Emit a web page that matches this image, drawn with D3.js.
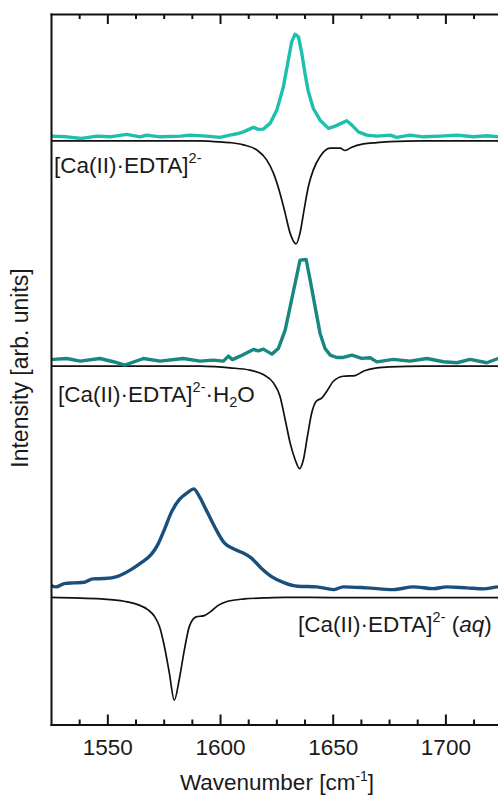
<!DOCTYPE html>
<html>
<head>
<meta charset="utf-8">
<script src="https://cdn.jsdelivr.net/npm/d3@7"></script>
<style>
  html, body { margin: 0; padding: 0; background: #fff; }
  svg { display: block; font-family: 'Liberation Sans', Arial, sans-serif; }
</style>
</head>
<body>
<div id="graph_container"></div>
<script>
// x axis
const X_DOMAIN = [1525, 1730];
const X_MAJOR = [1550, 1600, 1650, 1700];
const X_MINOR = [1537.5, 1562.5, 1575, 1587.5, 1612.5, 1625, 1637.5, 1662.5, 1675, 1687.5, 1712.5, 1725];

// [Ca(II)·EDTA]2- , measured (teal) and computed (black)
const gasWn = [1525.3, 1532.0, 1538.6, 1545.3, 1551.2, 1558.6, 1564.5, 1567.5, 1573.4, 1582.3, 1586.7, 1594.1, 1600.0,
  1604.4, 1607.5, 1610.4, 1614.8, 1617.0, 1619.2, 1622.2, 1625.2, 1628.1, 1630.3, 1631.8, 1633.3, 1634.8, 1636.3,
  1637.7, 1639.2, 1641.4, 1644.4, 1648.1, 1651.1, 1656.2, 1658.5, 1661.4, 1665.1, 1669.6, 1675.5, 1678.4, 1684.3,
  1690.2, 1697.7, 1705.1, 1712.4, 1718.4, 1723.4, 1730];
const gasInt = [0.007, 0.000, -0.016, 0.007, 0.000, 0.024, 0.000, 0.017, 0.000, 0.007, 0.017, 0.007, -0.006,
  0.017, 0.030, 0.049, 0.093, 0.073, 0.076, 0.132, 0.263, 0.492, 0.755, 0.935, 1.011, 0.985, 0.821,
  0.624, 0.443, 0.279, 0.164, 0.083, 0.105, 0.158, 0.115, 0.049, 0.017, 0.007, 0.017, -0.006, 0.017,
  0.000, 0.007, 0.017, 0.000, 0.010, 0.000, 0.005];
const gasCalcWn = [1525, 1591.1, 1597.8, 1604.4, 1610.4, 1616.3, 1620.7, 1623.7, 1626.6, 1628.9, 1631.1, 1633.7,
  1635.5, 1637.3, 1639.2, 1641.4, 1644.4, 1648.9, 1653.3, 1655.5, 1658.5, 1663.6, 1669.6, 1675.5, 1690, 1730];
const gasCalcInt = [0, 0, -0.007, -0.017, -0.039, -0.089, -0.187, -0.318, -0.515, -0.712, -0.909, -1.014,
  -0.909, -0.679, -0.450, -0.286, -0.154, -0.072, -0.072, -0.095, -0.062, -0.030, -0.017, -0.007, 0, 0];

// [Ca(II)·EDTA]2-·H2O
const hydWn = [1526.0, 1532.0, 1537.9, 1546.7, 1552.7, 1557.8, 1566.0, 1573.4, 1583.7, 1591.1, 1597.0, 1601.5,
  1603.7, 1605.5, 1608.9, 1614.8, 1617.0, 1619.2, 1623.0, 1625.9, 1628.9, 1631.1, 1633.3, 1635.5, 1638.2, 1640.0,
  1642.2, 1644.4, 1646.6, 1648.9, 1651.8, 1654.7, 1658.5, 1662.9, 1666.6, 1669.6, 1676.9, 1684.3, 1691.8, 1699.1,
  1705.1, 1711.0, 1718.4, 1723.4, 1730];
const hydInt = [0.007, 0.016, -0.010, 0.016, -0.016, -0.049, 0.016, -0.010, 0.016, -0.010, 0.000, -0.010,
  0.039, 0.005, 0.039, 0.105, 0.091, 0.108, 0.059, 0.115, 0.295, 0.525, 0.755, 0.985, 0.991, 0.788,
  0.525, 0.263, 0.115, 0.049, 0.026, 0.026, 0.049, 0.017, 0.023, -0.017, 0.007, -0.010, 0.016, -0.016,
  -0.026, 0.007, -0.026, 0.016, 0.000];
const hydCalcWn = [1525, 1591.1, 1597.8, 1604.4, 1613.3, 1619.2, 1623.7, 1626.6, 1628.9, 1631.1, 1633.3, 1635.3,
  1637.0, 1638.8, 1640.7, 1642.7, 1645.2, 1647.4, 1650.3, 1654.7, 1659.9, 1663.6, 1669.6, 1675.5, 1690, 1730];
const hydCalcInt = [0, 0, -0.005, -0.016, -0.039, -0.082, -0.164, -0.295, -0.525, -0.755, -0.919, -1.010,
  -0.919, -0.689, -0.459, -0.345, -0.312, -0.246, -0.148, -0.099, -0.092, -0.049, -0.016, -0.006, 0, 0];

// [Ca(II)·EDTA]2- (aq)
const aqWn = [1525.0, 1527.2, 1530.9, 1535.3, 1539.8, 1543.5, 1548.7, 1554.6, 1560.5, 1564.9, 1569.4, 1572.4,
  1575.3, 1578.3, 1581.9, 1585.7, 1588.3, 1590.8, 1593.8, 1597.5, 1601.9, 1605.7, 1610.1, 1613.8, 1618.2, 1622.7,
  1628.6, 1634.5, 1642.9, 1650.3, 1654.7, 1665.1, 1676.9, 1685.8, 1694.7, 1700.6, 1709.5, 1716.9, 1723.4, 1730];
const aqInt = [0.015, 0.002, 0.034, 0.041, 0.047, 0.081, 0.084, 0.106, 0.172, 0.238, 0.320, 0.418,
  0.566, 0.731, 0.861, 0.933, 0.967, 0.894, 0.763, 0.599, 0.435, 0.379, 0.337, 0.287, 0.189, 0.106,
  0.041, 0.008, 0.002, -0.025, 0.002, -0.008, -0.025, 0.002, -0.015, 0.002, -0.008, -0.018, 0.002, 0.005];
const aqCalcWn = [1525.0, 1547.2, 1557.5, 1563.5, 1567.9, 1570.9, 1573.1, 1575.3, 1577.5, 1579.7, 1581.9, 1584.2,
  1586.4, 1589.4, 1593.0, 1596.0, 1599.0, 1603.4, 1610.8, 1619.7, 1628.6, 1650, 1730];
const aqCalcInt = [0.003, -0.013, -0.036, -0.069, -0.118, -0.184, -0.283, -0.479, -0.741, -1.011, -0.807, -0.512,
  -0.283, -0.190, -0.177, -0.135, -0.079, -0.036, -0.013, -0.003, 0.003, 0, 0];

// vertical offsets of each trace
const OFFSETS = { gas: 5.79, gasCalc: 5.75, hyd: 3.59, hydCalc: 3.53, aq: 1.354, aqCalc: 1.25 };
const Y_DOMAIN = [0, 7];

const COLORS = { gas: '#1fbfad', hyd: '#17877f', aq: '#1a4f7c', calc: '#111111' };
const TEXT = '#1a1a1a';

const width = 498;
const height = 795;
const plot = { left: 51, top: 14, right: 513, bottom: 724.5 };

const svg = d3.select('#graph_container').append('svg')
  .attr('width', width).attr('height', height);

const x = d3.scaleLinear().domain(X_DOMAIN).range([plot.left, plot.right]);
const y = d3.scaleLinear().domain(Y_DOMAIN).range([plot.bottom, plot.top]);

svg.append('clipPath').attr('id', 'clip')
  .append('rect')
  .attr('x', plot.left).attr('y', plot.top)
  .attr('width', plot.right - plot.left).attr('height', plot.bottom - plot.top);

const traces = [
  { wn: gasCalcWn, int: gasCalcInt, off: OFFSETS.gasCalc, color: COLORS.calc, w: 1.7, curve: d3.curveMonotoneX },
  { wn: hydCalcWn, int: hydCalcInt, off: OFFSETS.hydCalc, color: COLORS.calc, w: 1.7, curve: d3.curveMonotoneX },
  { wn: aqCalcWn, int: aqCalcInt, off: OFFSETS.aqCalc, color: COLORS.calc, w: 1.7, curve: d3.curveMonotoneX },
  { wn: gasWn, int: gasInt, off: OFFSETS.gas, color: COLORS.gas, w: 3.4, curve: d3.curveLinear },
  { wn: hydWn, int: hydInt, off: OFFSETS.hyd, color: COLORS.hyd, w: 3.4, curve: d3.curveLinear },
  { wn: aqWn, int: aqInt, off: OFFSETS.aq, color: COLORS.aq, w: 3.4, curve: d3.curveMonotoneX }
];

const lines = svg.append('g').attr('class', 'lines').attr('clip-path', 'url(#clip)');

traces.forEach((t) => {
  const pts = t.wn.map((w, i) => [w, t.int[i]]);
  const line = d3.line()
    .x((d) => x(d[0]))
    .y((d) => y(d[1] + t.off))
    .curve(t.curve);
  lines.append('path')
    .datum(pts)
    .attr('d', line)
    .attr('fill', 'none')
    .attr('stroke', t.color)
    .attr('stroke-width', t.w)
    .attr('stroke-linejoin', 'round')
    .attr('stroke-linecap', 'round');
});

// axes, ticks pointing inward
const axes = svg.append('g').attr('class', 'axes');

axes.append('g')
  .attr('transform', 'translate(0,' + plot.bottom + ')')
  .call(d3.axisBottom(x).tickValues(X_MINOR).tickSize(-5).tickFormat(''))
  .call((g) => g.select('.domain').remove());

axes.append('g')
  .attr('transform', 'translate(0,' + plot.top + ')')
  .call(d3.axisTop(x).tickValues(X_MINOR).tickSize(-5).tickFormat(''))
  .call((g) => g.select('.domain').remove());

axes.append('g')
  .attr('transform', 'translate(0,' + plot.top + ')')
  .call(d3.axisTop(x).tickValues(X_MAJOR).tickSize(-10).tickSizeOuter(0).tickFormat(''));

axes.append('g')
  .attr('class', 'x-bottom')
  .attr('transform', 'translate(0,' + plot.bottom + ')')
  .call(d3.axisBottom(x).tickValues(X_MAJOR).tickSize(-10).tickSizeOuter(0).tickPadding(15).tickFormat(d3.format('d')));

axes.append('g')
  .attr('transform', 'translate(' + plot.left + ',0)')
  .call(d3.axisLeft(y).tickValues([]).tickSizeOuter(0));

axes.selectAll('.domain, .tick line')
  .attr('stroke', '#111')
  .attr('stroke-width', 2);
axes.selectAll('.domain').attr('stroke-linecap', 'square');
axes.selectAll('.x-bottom text')
  .attr('fill', TEXT)
  .style('font-size', '22.5px')
  .style('font-family', "'Liberation Sans', Arial, sans-serif");

// axis titles
const xTitle = svg.append('text')
  .attr('x', 277).attr('y', 790)
  .attr('text-anchor', 'middle')
  .attr('fill', TEXT)
  .style('font-size', '22.5px');
xTitle.append('tspan').text('Wavenumber [cm');
xTitle.append('tspan').attr('dy', -9).style('font-size', '14px').text('-1');
xTitle.append('tspan').attr('dy', 9).text(']');

svg.append('text')
  .attr('transform', 'translate(28,368) rotate(-90)')
  .attr('text-anchor', 'middle')
  .attr('fill', TEXT)
  .style('font-size', '23px')
  .text('Intensity [arb. units]');

// trace labels: [text, kind]
function addLabel(x0, y0, parts) {
  const t = svg.append('text')
    .attr('x', x0).attr('y', y0)
    .attr('fill', TEXT)
    .style('font-size', '22.5px');
  let shift = 0;
  parts.forEach(([s, kind]) => {
    const target = kind === 'sup' ? -10 : kind === 'sub' ? 5 : 0;
    const span = t.append('tspan').attr('dy', target - shift).text(s);
    shift = target;
    if (kind === 'sup' || kind === 'sub') span.style('font-size', '14.5px');
    if (kind === 'it') span.style('font-style', 'italic');
  });
}

addLabel(54, 173, [['[Ca(II)·EDTA]', 'n'], ['2-', 'sup']]);
addLabel(58, 401.5, [['[Ca(II)·EDTA]', 'n'], ['2-', 'sup'], ['·H', 'n'], ['2', 'sub'], ['O', 'n']]);
addLabel(298, 631.5, [['[Ca(II)·EDTA]', 'n'], ['2-', 'sup'], [' (', 'n'], ['aq', 'it'], [')', 'n']]);
</script>
</body>
</html>
